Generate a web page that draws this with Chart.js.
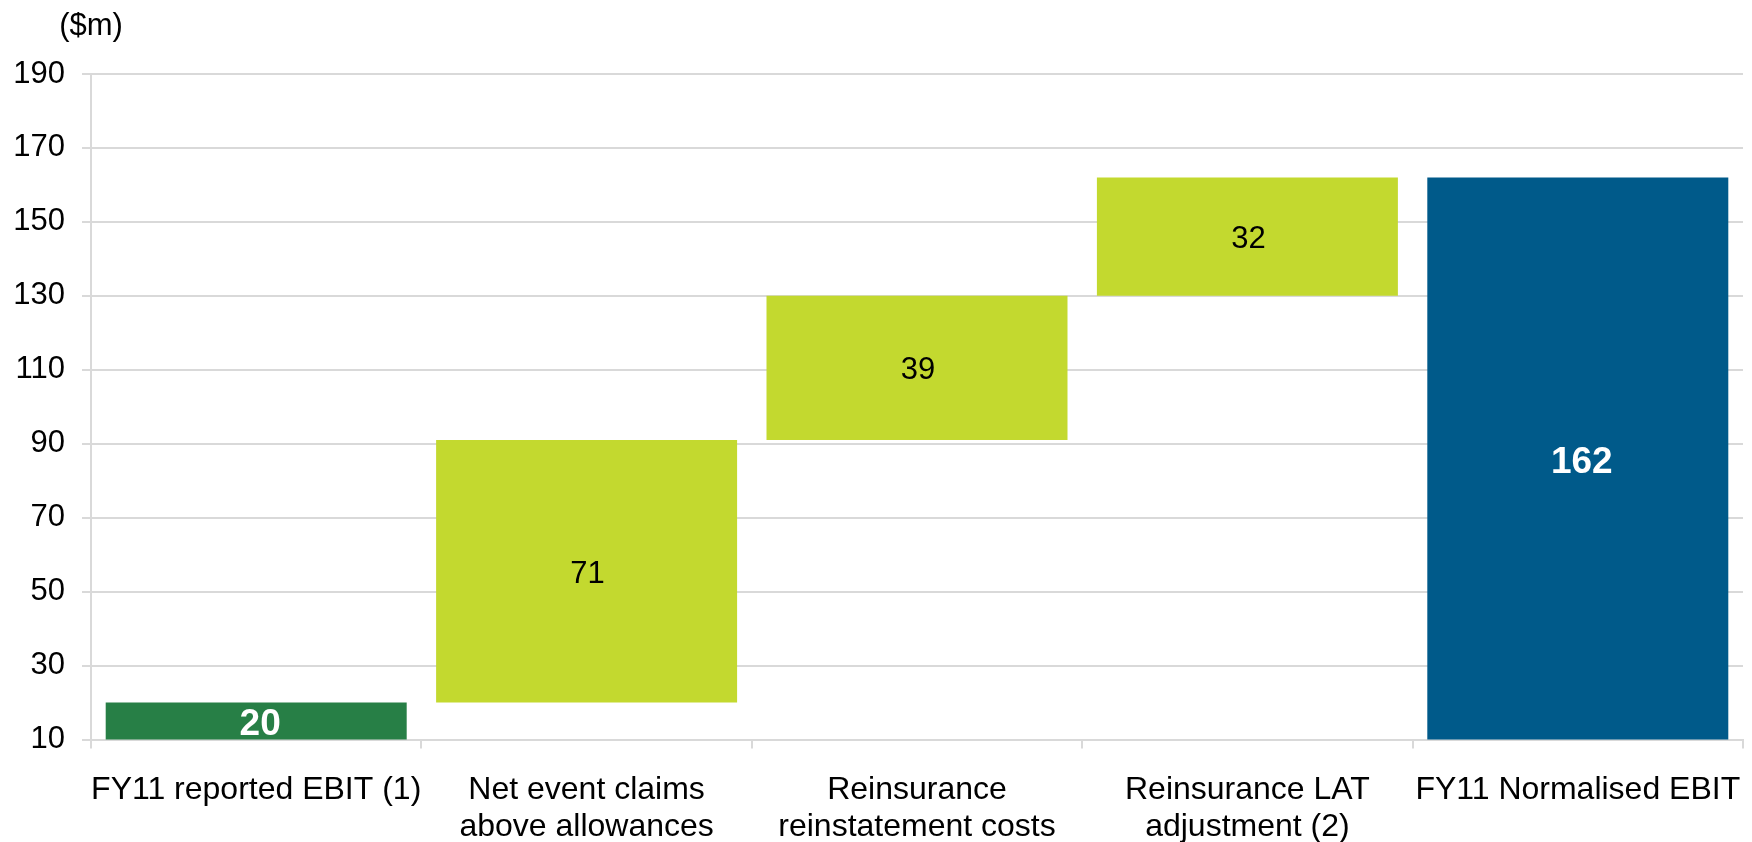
<!DOCTYPE html>
<html><head><meta charset="utf-8">
<script src="https://cdn.jsdelivr.net/npm/chart.js@4/dist/chart.umd.min.js"></script>
<style>html,body{margin:0;padding:0;background:#fff;}</style>
</head><body>
<canvas id="c" width="1752" height="842" style="display:block;width:1752px;height:842px"></canvas>
<script>
// ---- data ----
const categories = [
  ['FY11 reported EBIT (1)'],
  ['Net event claims', 'above allowances'],
  ['Reinsurance', 'reinstatement costs'],
  ['Reinsurance LAT', 'adjustment (2)'],
  ['FY11 Normalised EBIT']
];
const startValue = 20;
const stepValues = [71, 39, 32];
const endValue = 162;
const yMin = 10, yMax = 190, yStep = 20;
const unitLabel = '($m)';
const barColors = ['#277F46', '#C3D92F', '#C3D92F', '#C3D92F', '#005A8A'];
const labelColors = ['#ffffff', '#000000', '#000000', '#000000', '#ffffff'];
const labelBold = [true, false, false, false, true];

// build floating ranges
const ranges = [[0, startValue]];
let run = startValue;
stepValues.forEach(v => { ranges.push([run, run + v]); run += v; });
ranges.push([0, endValue]);
const labelValues = [startValue, ...stepValues, endValue];

const FONT = "'Liberation Sans', Arial, sans-serif";

const labelPlugin = {
  id: 'wfLabels',
  afterDatasetsDraw(chart) {
    const ctx = chart.ctx;
    const area = chart.chartArea;
    const meta = chart.getDatasetMeta(0);
    meta.data.forEach((bar, i) => {
      const top = Math.max(Math.min(bar.y, bar.base), area.top);
      const bot = Math.min(Math.max(bar.y, bar.base), area.bottom);
      const cy = (top + bot) / 2;
      ctx.save();
      ctx.font = (labelBold[i] ? 'bold 37px ' : '31px ') + FONT;
      ctx.fillStyle = labelColors[i];
      ctx.textAlign = 'center';
      ctx.textBaseline = 'middle';
      ctx.fillText(String(labelValues[i]), bar.x + (labelBold[i] ? 4 : 1), cy + (labelBold[i] ? 4 : 3));
      ctx.restore();
    });
    ctx.save();
    ctx.font = '31px ' + FONT;
    ctx.fillStyle = '#000';
    ctx.textAlign = 'center';
    ctx.textBaseline = 'alphabetic';
    ctx.fillText(unitLabel, area.left, area.top - 39);
    ctx.restore();
  }
};

new Chart(document.getElementById('c'), {
  type: 'bar',
  data: {
    labels: categories,
    datasets: [{
      data: ranges,
      backgroundColor: barColors,
      borderWidth: 0,
      borderSkipped: false,
      barPercentage: 0.911,
      categoryPercentage: 1.0
    }]
  },
  options: {
    responsive: false,
    devicePixelRatio: 1,
    animation: false,
    layout: { padding: { top: 74, right: 9, left: 0, bottom: 0 } },
    plugins: { legend: { display: false }, tooltip: { enabled: false }, title: { display: false } },
    scales: {
      x: {
        afterFit(scale) { scale.height = 102.5; scale.paddingLeft = 0; scale.paddingRight = 0; },
        grid: { drawOnChartArea: false, drawTicks: true, tickLength: 9, color: '#d9d9d9', lineWidth: 2 },
        border: { display: true, color: '#d9d9d9', width: 2 },
        ticks: { color: '#000', padding: 23, maxRotation: 0, autoSkip: false,
          font: { family: FONT, size: 32, lineHeight: 1.16 } }
      },
      y: {
        min: yMin, max: yMax,
        afterFit(scale) { scale.width = 91; },
        grid: { color: '#d9d9d9', lineWidth: 2, tickLength: 9, drawTicks: true },
        border: { display: true, color: '#d9d9d9', width: 2 },
        ticks: { stepSize: yStep, color: '#000', padding: 17,
          font: { family: FONT, size: 31 } }
      }
    }
  },
  plugins: [labelPlugin]
});
</script>
</body></html>
